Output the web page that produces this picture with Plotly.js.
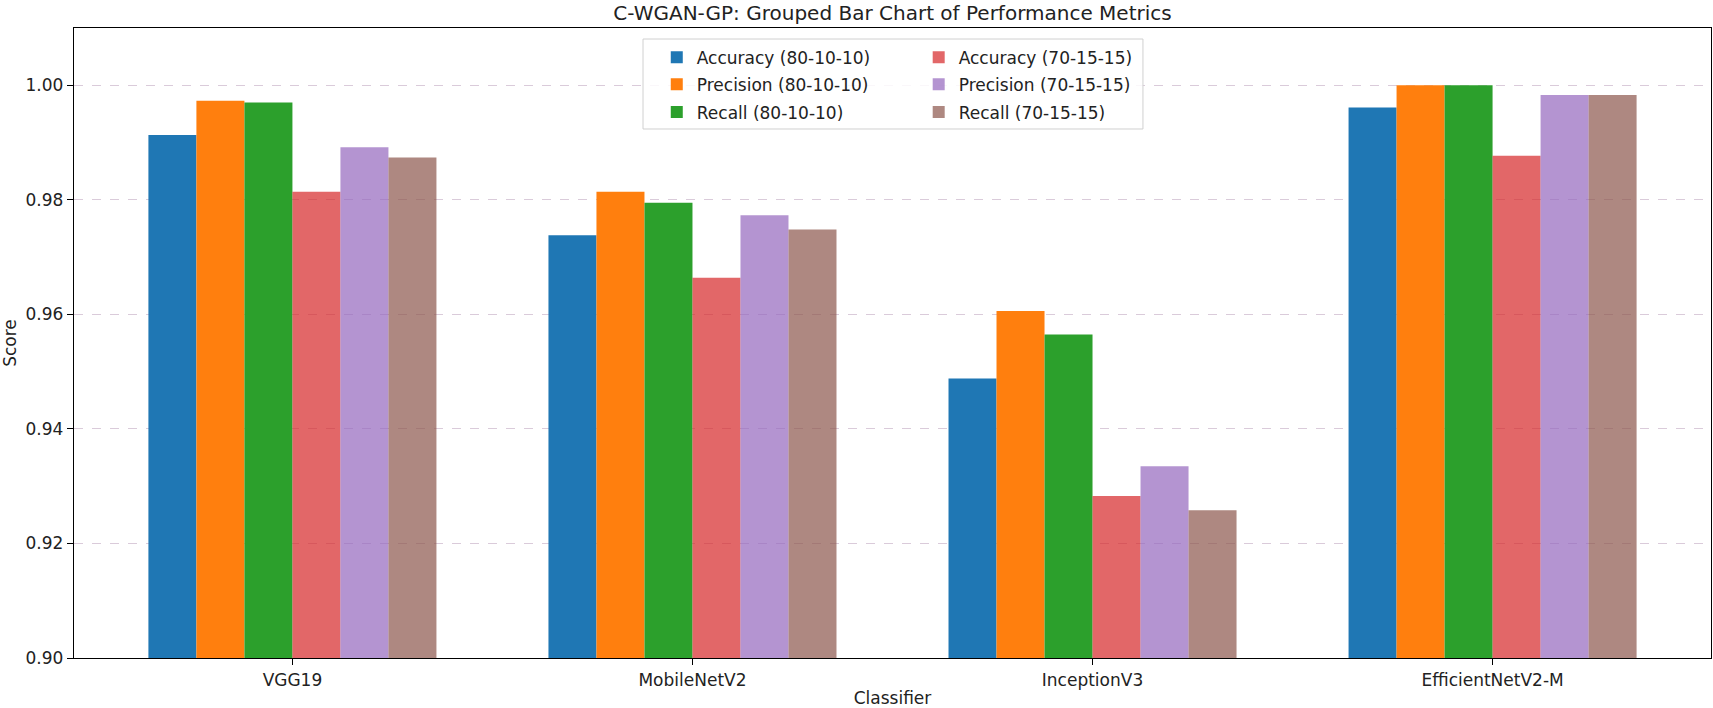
<!DOCTYPE html>
<html>
<head>
<meta charset="utf-8">
<script src="https://cdn.plot.ly/plotly-3.0.1.min.js"></script>
<style>
  body { margin: 0; background: #fff; }
  #graph { width: 1713px; height: 708px; }
</style>
</head>
<body>
<div id="graph"></div>
<script>
const classifiers = ['VGG19', 'MobileNetV2', 'InceptionV3', 'EfficientNetV2-M']

const accuracy80 = [0.9913, 0.9738, 0.9488, 0.9961]
const precision80 = [0.9973, 0.9814, 0.9606, 1.0]
const recall80 = [0.9970, 0.9795, 0.9565, 1.0]
const accuracy70 = [0.9814, 0.9664, 0.9283, 0.9877]
const precision70 = [0.9892, 0.9773, 0.9335, 0.9983]
const recall70 = [0.9874, 0.9748, 0.9258, 0.9983]

const seriesNames = [
  'Accuracy (80-10-10)',
  'Precision (80-10-10)',
  'Recall (80-10-10)',
  'Accuracy (70-15-15)',
  'Precision (70-15-15)',
  'Recall (70-15-15)'
]
const seriesValues = [accuracy80, precision80, recall80, accuracy70, precision70, recall70]
// second split drawn with alpha 0.7 like the original
const colors = [
  '#1f77b4', '#ff7f0e', '#2ca02c',
  'rgba(214,39,40,0.7)', 'rgba(148,103,189,0.7)', 'rgba(140,86,75,0.7)'
]

const font = 'DejaVu Sans, Liberation Sans, sans-serif'

// one legend per entry so the two columns sit like matplotlib's ncol=2
const legendIds = ['legend', 'legend2', 'legend3', 'legend4', 'legend5', 'legend6']
const colX = [0.356, 0.516]
const rowY = [0.953, 0.910, 0.866]

const traces = seriesNames.map(function (name, i) {
  return {
    type: 'bar',
    name: name,
    x: classifiers.map(function (c, k) { return k }),
    y: seriesValues[i],
    marker: { color: colors[i], line: { width: 0 } },
    legend: legendIds[i],
    showlegend: true,
    hoverinfo: 'none'
  }
})

const layout = {
  width: 1713,
  height: 708,
  margin: { l: 74, r: 2, t: 28, b: 50 },
  paper_bgcolor: '#fff',
  plot_bgcolor: '#fff',
  showlegend: true,
  barmode: 'group',
  bargap: 0.28,
  bargroupgap: 0,
  font: { family: font, size: 17, color: '#222' },
  title: {
    text: 'C-WGAN-GP: Grouped Bar Chart of Performance Metrics',
    font: { family: font, size: 20, color: '#222' },
    x: 0.5,
    xref: 'paper',
    y: 0.981,
    yref: 'container',
    yanchor: 'middle'
  },
  xaxis: {
    range: [-0.546, 3.546],
    tickmode: 'array',
    tickvals: [0, 1, 2, 3],
    ticktext: classifiers,
    ticks: 'outside',
    ticklen: 6,
    tickcolor: '#000',
    showline: true,
    mirror: true,
    linecolor: '#000',
    linewidth: 1.3,
    showgrid: false,
    zeroline: false,
    tickfont: { family: font, size: 17, color: '#222' },
    title: { text: 'Classifier', font: { family: font, size: 17, color: '#222' }, standoff: 11 }
  },
  yaxis: {
    range: [0.9, 1.01],
    tick0: 0.9,
    dtick: 0.02,
    tickformat: '.2f',
    ticks: 'outside',
    ticklen: 6,
    tickcolor: '#000',
    showline: true,
    mirror: true,
    linecolor: '#000',
    linewidth: 1.3,
    showgrid: true,
    gridcolor: 'rgba(205,185,205,0.75)',
    griddash: 'dash',
    gridwidth: 1,
    zeroline: false,
    layer: 'above traces',
    tickfont: { family: font, size: 17, color: '#222' },
    title: { text: 'Score', font: { family: font, size: 17, color: '#222' }, standoff: 10 }
  },
  shapes: [
    {
      type: 'rect',
      xref: 'paper',
      yref: 'paper',
      x0: 0.3476,
      x1: 0.653,
      y0: 0.8397,
      y1: 0.9825,
      fillcolor: 'rgba(255,255,255,0.85)',
      line: { color: '#d0d0d0', width: 1 },
      layer: 'above'
    }
  ]
}

legendIds.forEach(function (id, i) {
  layout[id] = {
    visible: true,
    bgcolor: 'rgba(0,0,0,0)',
    borderwidth: 0,
    font: { family: font, size: 17, color: '#222' },
    xanchor: 'left',
    yanchor: 'middle',
    x: colX[Math.floor(i / 3)],
    y: rowY[i % 3],
    itemwidth: 30
  }
})

Plotly.newPlot('graph', traces, layout, { staticPlot: true, displayModeBar: false })
</script>
</body>
</html>
